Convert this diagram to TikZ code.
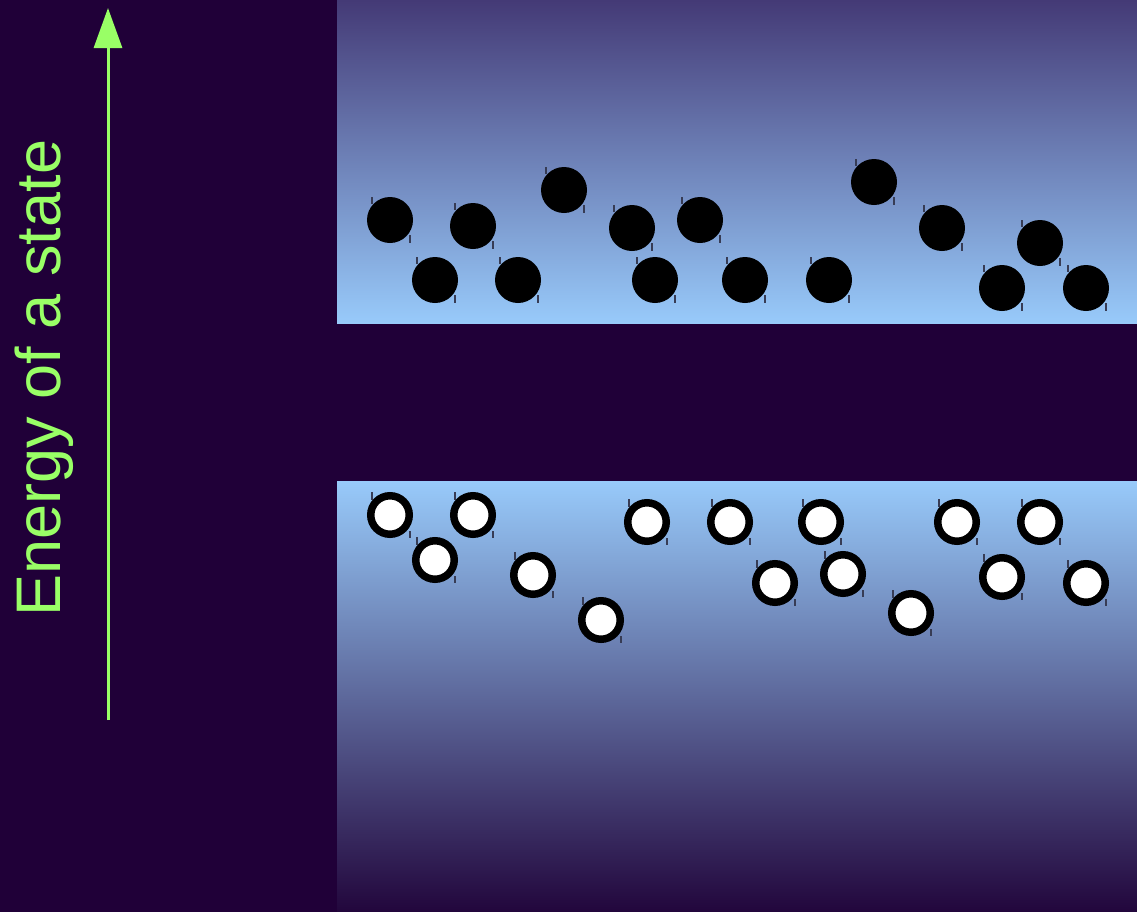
\documentclass[tikz,border=0pt]{standalone}
\usepackage{fontspec}
\setmainfont{Liberation Sans}
\usetikzlibrary{arrows.meta}
\definecolor{bg}{RGB}{32,0,56}
\definecolor{bandtop}{RGB}{68,58,118}
\definecolor{bandlight}{RGB}{152,202,250}
\definecolor{bandbot}{RGB}{34,6,60}
\definecolor{lime}{RGB}{153,255,102}
\definecolor{tickc}{RGB}{55,60,85}
\tikzset{
  full/.style={circle, fill=black, draw=none, minimum size=46bp, inner sep=0pt},
  hole/.style={circle, fill=white, draw=black, line width=7.5bp, minimum size=38.5bp, inner sep=0pt},
  tickmark/.style={draw=tickc, line width=1.3bp},
  axis/.style={draw=lime, line width=3bp, -{Triangle[width=28bp,length=40bp]}}
}
\begin{document}
\begin{tikzpicture}[x=1bp,y=-1bp]
\useasboundingbox (0,0) rectangle (1137,912);
\fill[bg] (0,0) rectangle (1137,912);
\shade[top color=bandtop, bottom color=bandlight] (337,0) rectangle (1137,323);
\shade[top color=bandlight, bottom color=bandbot] (337,481) rectangle (1137,912);
% axis
\coordinate (abot) at (108,720);
\coordinate (atop) at (108,8);
\draw[axis] (abot) -- (atop);
\node[rotate=90, text=lime, font=\fontsize{63bp}{70bp}\selectfont, inner sep=0pt] (lbl) at (44,378) {Energy of a state};
% electrons
\foreach \i/\x/\y in {1/390/220, 2/473/226, 3/564/190, 4/632/228, 5/700/220, 6/874/182, 7/942/228, 8/1040/243, 9/435/280, 10/518/280, 11/655/280, 12/745/280, 13/829/280, 14/1002/288, 15/1086/288}{
  \draw[tickmark] ({\x-18},{\y-23}) -- ++(0,7);
  \draw[tickmark] ({\x+20},{\y+15}) -- ++(0,8);
  \node[full] (e\i) at (\x,\y) {};
}
% holes
\foreach \i/\x/\y in {1/390/515, 2/473/515, 3/435/560, 4/533/575, 5/601/620, 6/647/522, 7/730/522, 8/821/522, 9/775/583, 10/843/574, 11/911/613, 12/957/522, 13/1040/522, 14/1002/577, 15/1086/583}{
  \draw[tickmark] ({\x-18},{\y-23}) -- ++(0,8);
  \draw[tickmark] ({\x+20},{\y+16}) -- ++(0,7);
  \node[hole] (h\i) at (\x,\y) {};
}
\end{tikzpicture}
\end{document}
